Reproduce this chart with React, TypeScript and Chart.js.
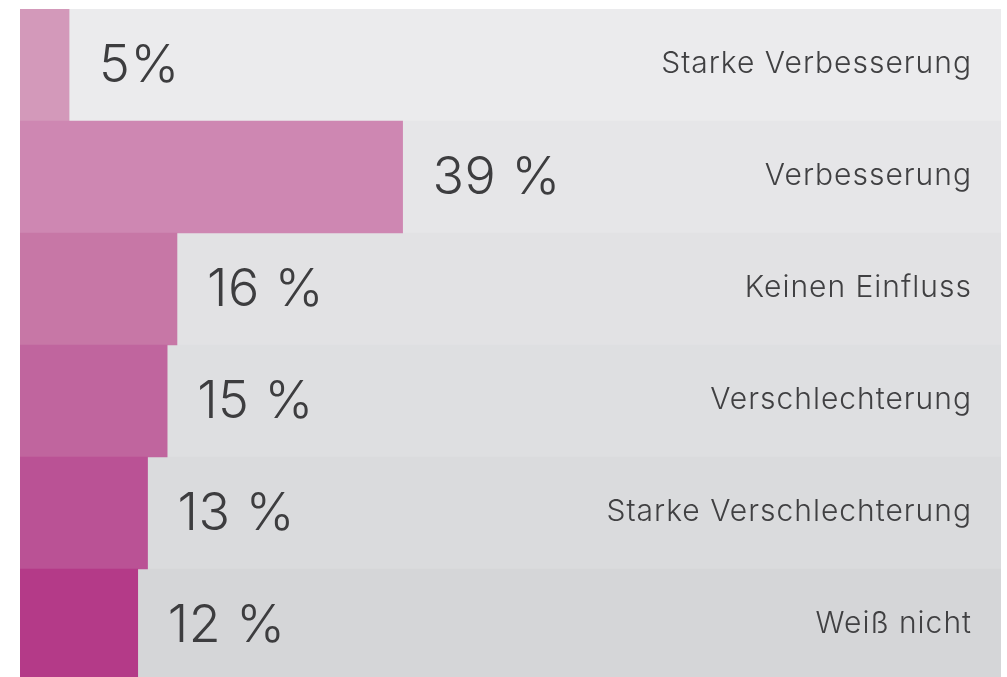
import React, { useEffect, useRef } from "react";
import { Chart, registerables } from "chart.js";

Chart.register(...registerables);

const categories = [
  "Starke Verbesserung",
  "Verbesserung",
  "Keinen Einfluss",
  "Verschlechterung",
  "Starke Verschlechterung",
  "Weiß nicht",
];
const values = [5, 39, 16, 15, 13, 12];
const valueLabels = ["5%", "39 %", "16 %", "15 %", "13 %", "12 %"];
const fullValues = [100, 100, 100, 100, 100, 100];
const barColors = ["#D399BA", "#CE87B2", "#C777A6", "#C0659E", "#BA5295", "#B43A88"];
const bandColors = ["#EBEBED", "#E6E6E8", "#E2E2E4", "#DEDFE1", "#DADBDD", "#D5D6D8"];

const labelPlugin = {
  id: "rowLabels",
  afterDatasetsDraw(chart: any) {
    const ctx = chart.ctx;
    const meta = chart.getDatasetMeta(1);
    const area = chart.chartArea;
    ctx.save();
    meta.data.forEach((bar: any, i: number) => {
      const y = bar.y;
      ctx.textBaseline = "middle";
      ctx.fillStyle = "#3d3d3f";
      ctx.textAlign = "left";
      ctx.font = "300 52px Inter";
      ctx.letterSpacing = "0.5px";
      ctx.fillText(valueLabels[i], bar.x + 30, y + 1);
      ctx.textAlign = "right";
      ctx.font = "300 30px Inter";
      ctx.letterSpacing = "1px";
      ctx.fillStyle = "#404042";
      ctx.fillText(categories[i], area.right - 29, y - 1);
    });
    ctx.restore();
  },
};

export default function App() {
  const ref = useRef<HTMLCanvasElement>(null);
  useEffect(() => {
    if (!ref.current) return;
    const chart = new Chart(ref.current, {
      type: "bar",
      data: {
        labels: categories,
        datasets: [
          {
            data: fullValues,
            backgroundColor: bandColors,
            grouped: false,
            order: 2,
            barPercentage: 1,
            categoryPercentage: 1,
          } as any,
          {
            data: values,
            backgroundColor: barColors,
            grouped: false,
            order: 1,
            barPercentage: 1,
            categoryPercentage: 1,
          } as any,
        ],
      },
      options: {
        indexAxis: "y",
        animation: false,
        responsive: true,
        maintainAspectRatio: false,
        layout: { padding: { left: 20, top: 9, right: 6, bottom: 0 } },
        plugins: { legend: { display: false }, tooltip: { enabled: false } },
        scales: {
          x: { display: false, min: 0, max: 100 },
          y: { display: false },
        },
      },
      plugins: [labelPlugin],
    });
    return () => chart.destroy();
  }, []);
  return (
    <div style={{ position: "fixed", left: 0, top: 0, width: 1007, height: 681 }}>
      <canvas ref={ref} />
    </div>
  );
}
